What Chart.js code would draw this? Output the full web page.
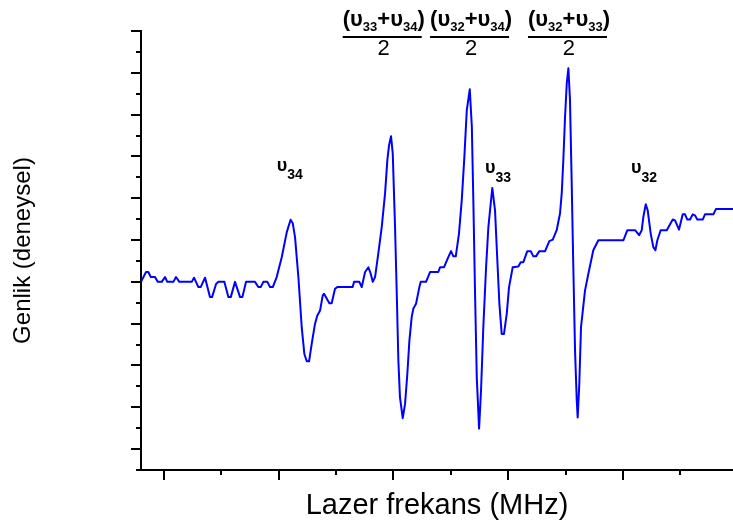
<!DOCTYPE html>
<html>
<head>
<meta charset="utf-8">
<title>Lazer frekans</title>
<script src="https://cdn.jsdelivr.net/npm/chart.js@4.4.1/dist/chart.umd.min.js"></script>
<style>
  body { margin: 0; background: #fff; }
  #chart { display: block; }
</style>
</head>
<body>
<canvas id="chart" width="733" height="523"></canvas>
<script>
// signal (arbitrary units)
const frequency = [-19.9, -15.5, -13.5, -11.4, -7.7, -5.3, -1.8, 1.0, 3.0, 8.3,
  10.6, 13.5, 24.3, 26.3, 30.1, 32.1, 35.9, 40.2, 42.0, 45.5,
  47.5, 52.7, 56.2, 58.3, 62.0, 66.4, 68.4, 71.6, 79.4, 82.3,
  84.4, 86.7, 90.2, 92.5, 94.9, 98.3, 102.7, 107.1, 110.4, 112.3,
  114.3, 117.2, 120.1, 122.4, 124.5, 126.5, 128.8, 131.7, 133.7, 136.1,
  138.4, 139.5, 144.2, 146.2, 149.1, 151.1, 164.5, 165.7, 170.3, 172.4,
  175.3, 178.2, 180.2, 182.0, 184.0, 186.8, 189.8, 192.7, 194.7, 196.2,
  197.9, 199.4, 201.4, 202.9, 204.3, 205.7, 208.1, 210.1, 212.1, 213.9,
  215.9, 217.3, 219.7, 222.6, 223.8, 228.4, 231.9, 239.1, 240.6, 244.1,
  247.8, 250.2, 252.2, 254.3, 257.1, 259.5, 261.8, 263.9, 266.5, 268.3,
  269.6, 271.1, 272.6, 274.6, 276.3, 278.3, 280.7, 282.7, 286.1, 288.5,
  290.5, 292.3, 294.3, 296.3, 298.7, 300.7, 303.9, 308.8, 310.9, 313.2,
  316.6, 319.6, 321.9, 324.2, 327.1, 332.1, 335.8, 338.8, 342.2, 345.1,
  346.6, 348.0, 349.5, 351.0, 352.4, 353.8, 355.3, 356.7, 358.2, 359.7,
  360.5, 361.9, 363.4, 366.9, 369.8, 374.1, 378.5, 400.3, 403.8, 410.5,
  414.0, 416.3, 417.7, 419.8, 421.5, 424.1, 426.4, 428.2, 429.9, 432.8,
  438.1, 443.3, 445.3, 448.8, 452.0, 454.0, 456.0, 458.4, 460.7, 462.7,
  464.7, 469.4, 471.4, 478.7, 481.0, 495.8];

const amplitude = [0, 0.47, 0.47, 0.23, 0.23, 0, 0, 0.23, 0, 0,
  0.23, 0, 0, 0.2, -0.25, -0.25, 0.2, -0.73, -0.73, -0.1,
  0, 0, -0.73, -0.73, 0, -0.73, -0.73, 0, 0, -0.25,
  -0.25, 0, 0, -0.25, -0.25, 0.23, 1.18, 2.38, 2.97, 2.8,
  2.13, 0.23, -2.17, -3.45, -3.8, -3.8, -2.97, -2.0, -1.61, -1.37,
  -0.65, -0.57, -1.02, -1.02, -0.33, -0.25, -0.25, 0, 0, -0.25,
  0.47, 0.7, 0.39, 0, 0.23, 1.35, 2.62, 4.23, 5.82, 6.54,
  6.97, 6.14, 2.62, -0.57, -3.77, -5.53, -6.52, -5.85, -4.41, -2.81,
  -1.69, -1.29, -1.05, -0.25, 0, 0, 0.47, 0.47, 0.7, 0.7,
  1.18, 1.47, 1.22, 1.22, 2.31, 3.9, 5.98, 8.22, 9.21, 7.42,
  3.9, -0.57, -4.57, -7.02, -5.21, -2.17, 0.7, 2.62, 4.49, 3.42,
  1.03, -1.05, -2.49, -2.49, -1.53, -0.25, 0.7, 0.74, 0.94, 0.94,
  1.47, 1.47, 1.22, 1.22, 1.47, 1.47, 1.95, 2.02, 2.47, 3.27,
  4.23, 5.82, 7.9, 9.5, 10.22, 8.7, 4.7, 0.7, -3.29, -5.69,
  -6.49, -4.89, -2.17, -0.41, 0.39, 1.51, 1.99, 1.99, 2.47, 2.47,
  2.23, 2.47, 3.1, 3.71, 3.42, 2.31, 1.66, 1.51, 1.99, 2.47,
  2.47, 2.98, 2.94, 2.5, 3.23, 3.23, 2.98, 2.98, 3.23, 3.18,
  2.98, 2.98, 3.23, 3.23, 3.49, 3.49];

// unlabelled tick marks
const xTicks = [0, 50, 100, 150, 200, 250, 300, 350, 400, 450];
const yTicks = [-9, -8, -7, -6, -5, -4, -3, -2, -1, 0, 1, 2, 3, 4, 5, 6, 7, 8, 9, 10, 11, 12];

// peak names and the combination lines
const peakNames = ['34', '33', '32'];
const comboNames = [['33', '34'], ['32', '34'], ['32', '33']];

const FONT = "'Liberation Sans', Arial, sans-serif";

// draws a run of text pieces left to right, returns its width
function textRun(ctx, parts, x0, base, draw) {
  let cx = x0;
  for (const p of parts) {
    ctx.font = p.font;
    if (draw) ctx.fillText(p.t, cx, base + (p.dy || 0));
    cx += ctx.measureText(p.t).width;
  }
  return cx - x0;
}

const extras = {
  id: 'extras',
  afterDraw(chart) {
    const { ctx, scales: { x, y } } = chart;
    ctx.save();

    // tick marks, long on major, short on minor
    ctx.strokeStyle = '#000';
    ctx.lineWidth = 2;
    const bottom = chart.chartArea.bottom;
    const left = chart.chartArea.left;
    xTicks.forEach(v => {
      const px = Math.round(x.getPixelForValue(v));
      const len = v % 100 === 0 ? 10 : 5;
      ctx.beginPath();
      ctx.moveTo(px, bottom);
      ctx.lineTo(px, bottom + len);
      ctx.stroke();
    });
    yTicks.forEach(v => {
      const py = Math.round(y.getPixelForValue(v));
      const len = v % 2 === 0 ? 10 : 5;
      ctx.beginPath();
      ctx.moveTo(left, py);
      ctx.lineTo(left - len, py);
      ctx.stroke();
    });

    ctx.fillStyle = '#000';
    ctx.textBaseline = 'alphabetic';
    ctx.textAlign = 'left';

    // single peak labels
    const labelAt = [[98.3, 5.32], [279.8, 5.2], [407, 5.2]];
    peakNames.forEach((n, i) => {
      const px = x.getPixelForValue(labelAt[i][0]);
      const py = y.getPixelForValue(labelAt[i][1]);
      textRun(ctx, [
        { t: 'υ', font: 'bold 18px ' + FONT },
        { t: n, font: 'bold 14px ' + FONT, dy: 8.5 }
      ], px, py, true);
    });

    // (υa+υb)/2 labels
    const comboAt = [155.8, 231.9, 317.2];
    const base = y.getPixelForValue(12.24);
    comboNames.forEach((pair, i) => {
      const px = x.getPixelForValue(comboAt[i]);
      const big = 'bold 22px ' + FONT;
      const small = 'bold 13px ' + FONT;
      const parts = [
        { t: '(', font: big },
        { t: 'υ', font: big },
        { t: pair[0], font: small, dy: 5.5 },
        { t: '+', font: big },
        { t: 'υ', font: big },
        { t: pair[1], font: small, dy: 5.5 },
        { t: ')', font: big }
      ];
      const w = textRun(ctx, parts, px, base, true);
      ctx.beginPath();
      ctx.moveTo(px, base + 11);
      ctx.lineTo(px + w - 3, base + 11);
      ctx.stroke();
      ctx.font = '22px ' + FONT;
      ctx.textAlign = 'center';
      ctx.fillText('2', px + w / 2, base + 29);
      ctx.textAlign = 'left';
    });

    ctx.restore();
  }
};

const points = frequency.map((f, i) => ({ x: f, y: amplitude[i] }));

new Chart(document.getElementById('chart'), {
  type: 'line',
  data: {
    datasets: [{
      data: points,
      borderColor: '#0000ff',
      borderWidth: 2,
      borderJoinStyle: 'round',
      pointRadius: 0,
      tension: 0,
      fill: false
    }]
  },
  options: {
    responsive: false,
    devicePixelRatio: 1,
    animation: false,
    layout: { padding: { top: 31, right: 0, left: 0, bottom: 0 } },
    plugins: {
      legend: { display: false },
      tooltip: { enabled: false }
    },
    scales: {
      x: {
        type: 'linear',
        min: -19.9,
        max: 495.8,
        grid: { display: false },
        border: { display: true, color: '#000', width: 2 },
        ticks: { display: false },
        title: {
          display: true,
          text: 'Lazer frekans (MHz)',
          color: '#000',
          font: { family: FONT, size: 29 },
          padding: { top: 0, bottom: 0 }
        },
        afterFit: scale => { scale.height = 53; }
      },
      y: {
        min: -9,
        max: 12,
        grid: { display: false },
        border: { display: true, color: '#000', width: 2 },
        ticks: { display: false, stepSize: 1 },
        title: {
          display: true,
          text: 'Genlik (deneysel)',
          color: '#000',
          font: { family: FONT, size: 24 },
          padding: { top: 9, bottom: 0 }
        },
        afterFit: scale => { scale.width = 141; }
      }
    }
  },
  plugins: [extras]
});
</script>
</body>
</html>
